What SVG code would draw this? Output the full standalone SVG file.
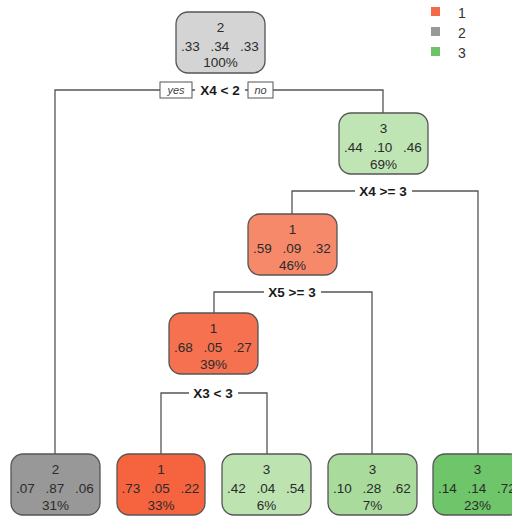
<svg xmlns="http://www.w3.org/2000/svg" width="512" height="516" viewBox="0 0 512 516">
<style>
.box{stroke:#555;stroke-width:1.3}
.t{font-family:"Liberation Sans",Arial,sans-serif;font-size:13.5px;text-anchor:middle;fill:#2b2b2b}
.split{font-family:"Liberation Sans",Arial,sans-serif;font-size:13.5px;font-weight:bold;text-anchor:middle;fill:#1a1a1a}
.yn{font-family:"Liberation Sans",Arial,sans-serif;font-size:11px;font-style:italic;text-anchor:middle;fill:#444}
.ynbox{fill:#fff;stroke:#555;stroke-width:1}
.lg{font-family:"Liberation Sans",Arial,sans-serif;font-size:14px;fill:#333}
.conn{fill:none;stroke:#555;stroke-width:1.3}
</style>
<rect width="512" height="516" fill="#fff"/>
<g id="legend">
<rect x="431" y="7" width="9" height="9" fill="#f4694a"/>
<rect x="431" y="27" width="9" height="9" fill="#999"/>
<rect x="431" y="47" width="9" height="9" fill="#6cc46a"/>
<text class="lg" x="458" y="18">1</text>
<text class="lg" x="458" y="38">2</text>
<text class="lg" x="458" y="58">3</text>
</g>
<g id="connectors">
<path class="conn" d="M55,454 V90 H383 V113"/>
<path class="conn" d="M292,214 V191 H478 V454"/>
<path class="conn" d="M214,313 V292 H372 V454"/>
<path class="conn" d="M161,454 V393 H267 V454"/>
<rect class="ynbox" x="160" y="82" width="32" height="16"/>
<text class="yn" x="176" y="94">yes</text>
<rect class="ynbox" x="248" y="82" width="25" height="16"/>
<text class="yn" x="260.5" y="94">no</text>
<rect x="195" y="83" width="50" height="15" fill="#fff"/>
<text class="split" x="220" y="95">X4 &lt; 2</text>
<rect x="355" y="184" width="57" height="15" fill="#fff"/>
<text class="split" x="383" y="196">X4 &gt;= 3</text>
<rect x="264" y="285" width="57" height="15" fill="#fff"/>
<text class="split" x="292" y="297">X5 &gt;= 3</text>
<rect x="189" y="386" width="49" height="15" fill="#fff"/>
<text class="split" x="213" y="398">X3 &lt; 3</text>
</g>
<g id="n1">
<rect class="box" x="176" y="12" width="89" height="61" rx="12" fill="#d4d4d4"/>
<text class="t" x="220.5" y="32">2</text>
<text class="t" x="190.5" y="51">.33</text><text class="t" x="220" y="51">.34</text><text class="t" x="249.5" y="51">.33</text>
<text class="t" x="220.5" y="67">100%</text>
</g>
<g id="n3">
<rect class="box" x="339" y="113" width="89" height="61" rx="12" fill="#c0e5b5"/>
<text class="t" x="383.5" y="133">3</text>
<text class="t" x="353.5" y="152">.44</text><text class="t" x="383" y="152">.10</text><text class="t" x="412.5" y="152">.46</text>
<text class="t" x="383.5" y="169">69%</text>
</g>
<g id="n6">
<rect class="box" x="248" y="214" width="89" height="61" rx="12" fill="#f7896b"/>
<text class="t" x="292.5" y="234">1</text>
<text class="t" x="262.5" y="253">.59</text><text class="t" x="292" y="253">.09</text><text class="t" x="321.5" y="253">.32</text>
<text class="t" x="292.5" y="270">46%</text>
</g>
<g id="n12">
<rect class="box" x="169" y="313" width="89" height="61" rx="12" fill="#f5714f"/>
<text class="t" x="213.5" y="333">1</text>
<text class="t" x="183.5" y="352">.68</text><text class="t" x="213" y="352">.05</text><text class="t" x="242.5" y="352">.27</text>
<text class="t" x="213.5" y="369">39%</text>
</g>
<g id="n2">
<rect class="box" x="11" y="454" width="89" height="61" rx="12" fill="#989898"/>
<text class="t" x="55.5" y="474">2</text>
<text class="t" x="25.5" y="493">.07</text><text class="t" x="55" y="493">.87</text><text class="t" x="84.5" y="493">.06</text>
<text class="t" x="55.5" y="510">31%</text>
</g>
<g id="n24">
<rect class="box" x="117" y="454" width="88" height="61" rx="12" fill="#f6643f"/>
<text class="t" x="161" y="474">1</text>
<text class="t" x="131" y="493">.73</text><text class="t" x="160.5" y="493">.05</text><text class="t" x="190" y="493">.22</text>
<text class="t" x="161" y="510">33%</text>
</g>
<g id="n25">
<rect class="box" x="222" y="454" width="89" height="61" rx="12" fill="#bde3b0"/>
<text class="t" x="266.5" y="474">3</text>
<text class="t" x="236.5" y="493">.42</text><text class="t" x="266" y="493">.04</text><text class="t" x="295.5" y="493">.54</text>
<text class="t" x="266.5" y="510">6%</text>
</g>
<g id="n13">
<rect class="box" x="328" y="454" width="89" height="61" rx="12" fill="#a9db9c"/>
<text class="t" x="372.5" y="474">3</text>
<text class="t" x="342.5" y="493">.10</text><text class="t" x="372" y="493">.28</text><text class="t" x="401.5" y="493">.62</text>
<text class="t" x="372.5" y="510">7%</text>
</g>
<g id="n7">
<rect class="box" x="433" y="454" width="89" height="61" rx="12" fill="#6ec56a"/>
<text class="t" x="477.5" y="474">3</text>
<text class="t" x="447.5" y="493">.14</text><text class="t" x="477" y="493">.14</text><text class="t" x="506.5" y="493">.72</text>
<text class="t" x="477.5" y="510">23%</text>
</g>
</svg>
